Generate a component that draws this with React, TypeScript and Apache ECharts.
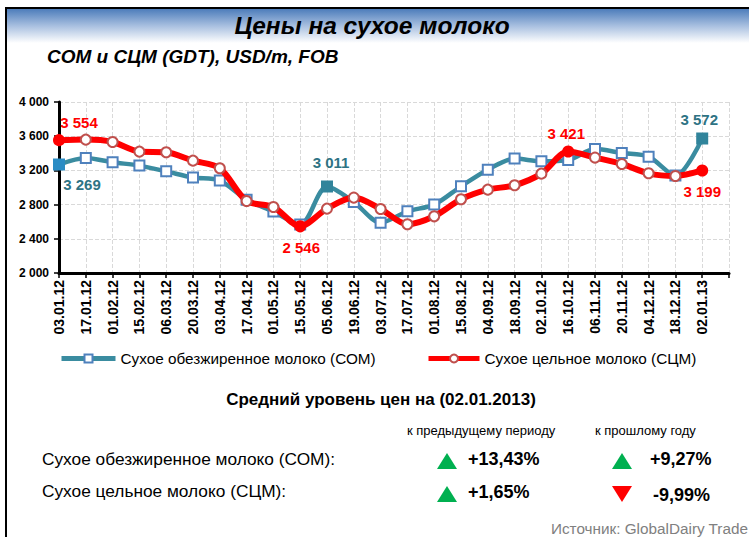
import React, { useEffect, useRef } from "react";
import * as echarts from "echarts";

const categories = [
  "03.01.12", "17.01.12", "01.02.12", "15.02.12", "06.03.12", "20.03.12", "03.04.12",
  "17.04.12", "01.05.12", "15.05.12", "05.06.12", "19.06.12", "03.07.12", "17.07.12",
  "01.08.12", "15.08.12", "04.09.12", "18.09.12", "02.10.12", "16.10.12", "06.11.12",
  "20.11.12", "04.12.12", "18.12.12", "02.01.13",
];
const comValues = [
  3269, 3345, 3295, 3256, 3189, 3116, 3081, 2858, 2718, 2566, 3011, 2830, 2589, 2722,
  2800, 3014, 3209, 3338, 3306, 3322, 3450, 3404, 3361, 3139, 3572,
];
const scmValues = [
  3554, 3560, 3532, 3420, 3412, 3314, 3225, 2842, 2772, 2546, 2753, 2882, 2749, 2570,
  2663, 2862, 2975, 3026, 3162, 3421, 3350, 3275, 3166, 3135, 3199,
];
const yMin = 2000;
const yMax = 4000;
const yStep = 400;
const seriesNames = ["Сухое обезжиренное молоко (СОМ)", "Сухое цельное молоко (СЦМ)"];
const titleText = "Цены на сухое молоко";
const subtitleText = "СОМ и СЦМ (GDT), USD/m, FOB";
const tableTitle = "Средний уровень цен на (02.01.2013)";
const columnHeaders = ["к предыдущему периоду", "к прошлому году"];
const rowLabels = ["Сухое обезжиренное молоко (СОМ):", "Сухое цельное молоко (СЦМ):"];
const changesPrev = [13.43, 1.65];
const changesYear = [9.27, -9.99];
const sourceText = "Источник: GlobalDairy Trade";

// which points carry a value label, and where the label sits relative to the point
const comLabels: Record<number, [number, number]> = { 0: [23, 20], 10: [4, -24], 24: [-3, -19] };
const scmLabels: Record<number, [number, number]> = { 0: [20, -18], 9: [1, 21], 19: [-2, -18], 24: [0, 21] };
const comFilled: Record<number, string> = { 0: "#2a8cc4", 10: "#31849b", 24: "#31849b" };
const scmFilled: Record<number, string> = { 0: "#ff0000", 9: "#ff0000", 19: "#ff0000", 24: "#ff0000" };

const FONT = "'Liberation Sans', Arial, sans-serif";
const TEAL = "#3a8ca0";
const RED = "#ff0000";

const fmtThousands = (v: number) => String(v).replace(/\B(?=(\d{3})+(?!\d))/g, " ");
const fmtPct = (v: number) => (v > 0 ? "+" : "") + v.toFixed(2).replace(".", ",") + "%";

function buildData(
  values: number[],
  labels: Record<number, [number, number]>,
  filled: Record<number, string>,
  labelColor: string
) {
  return values.map((v, i) => {
    const item: any = { value: v };
    if (filled[i]) item.itemStyle = { color: filled[i], borderColor: filled[i] };
    if (labels[i]) {
      item.label = {
        show: true,
        position: "inside",
        offset: labels[i],
        formatter: (p: any) => fmtThousands(p.value),
        color: labelColor,
        fontWeight: "bold",
        fontSize: 15,
        fontFamily: FONT,
      };
    }
    return item;
  });
}

function txt(text: string, x: number, y: number, opts: any = {}) {
  const align = opts.align || "left";
  return {
    type: "text",
    z: 100,
    style: {
      text,
      x,
      y,
      fill: opts.fill || "#000",
      fontSize: opts.fontSize || 14,
      fontWeight: opts.fontWeight || "normal",
      fontStyle: opts.fontStyle || "normal",
      fontFamily: FONT,
      align,
      textAlign: align,
      verticalAlign: "middle",
      textVerticalAlign: "middle",
    },
  };
}

function triangle(cx: number, cy: number, up: boolean) {
  const w = 10;
  const h = 8;
  const pts = up
    ? [[cx - w, cy + h], [cx + w, cy + h], [cx, cy - h]]
    : [[cx - w, cy - h], [cx + w, cy - h], [cx, cy + h]];
  return {
    type: "polygon",
    z: 100,
    shape: { points: pts },
    style: { fill: up ? "#00b050" : "#ff0000" },
  };
}

export default function App() {
  const ref = useRef<HTMLDivElement>(null);

  useEffect(() => {
    if (!ref.current) return;
    const chart = echarts.init(ref.current, undefined, { renderer: "svg" });

    const graphic: any[] = [
      {
        type: "rect",
        z: 0,
        shape: { x: 6, y: 9, width: 743, height: 34 },
        style: {
          fill: new echarts.graphic.LinearGradient(0, 0, 0, 1, [
            { offset: 0, color: "#4d7dbb" },
            { offset: 0.5, color: "#a9c0e0" },
            { offset: 1, color: "#ffffff" },
          ]),
        },
      },
      { type: "line", z: 100, shape: { x1: 5, y1: 8, x2: 749, y2: 8 }, style: { stroke: "#000", lineWidth: 2 } },
      { type: "line", z: 100, shape: { x1: 6, y1: 7, x2: 6, y2: 537 }, style: { stroke: "#000", lineWidth: 2 } },
      txt(titleText, 372, 25, { align: "center", fontSize: 24.5, fontWeight: "bold", fontStyle: "italic" }),
      txt(subtitleText, 47, 56, { fontSize: 19, fontWeight: "bold", fontStyle: "italic" }),
      txt(tableTitle, 381, 399, { align: "center", fontSize: 17, fontWeight: "bold" }),
      txt(columnHeaders[0], 407, 430, { fontSize: 13 }),
      txt(columnHeaders[1], 595, 430, { fontSize: 13 }),
      txt(rowLabels[0], 42, 459, { fontSize: 17.3 }),
      txt(rowLabels[1], 42, 491, { fontSize: 17.3 }),
      txt(sourceText, 748, 528, { align: "right", fontSize: 15.3, fill: "#808080" }),
    ];
    const rowY = [459, 492];
    changesPrev.forEach((v, i) => {
      graphic.push(triangle(447, rowY[i] + 2, v >= 0));
      graphic.push(txt(fmtPct(v), 468, rowY[i], { fontSize: 18, fontWeight: "bold" }));
    });
    changesYear.forEach((v, i) => {
      graphic.push(triangle(622, rowY[i] + 2, v >= 0));
      graphic.push(txt(fmtPct(v), v >= 0 ? 650 : 653, rowY[i] + (v >= 0 ? 0 : 3), { fontSize: 18, fontWeight: "bold" }));
    });

    const legendCommon = {
      top: 351,
      padding: 0,
      itemHeight: 10,
      textStyle: { fontSize: 15.3, color: "#000", fontFamily: FONT },
      lineStyle: { width: 5 },
    };

    chart.setOption({
      animation: false,
      backgroundColor: "#ffffff",
      textStyle: { fontFamily: FONT },
      grid: { left: 59, right: 20, top: 102, bottom: 264, containLabel: false },
      legend: [
        { ...legendCommon, data: [seriesNames[0]], left: 59, itemWidth: 54 },
        { ...legendCommon, data: [seriesNames[1]], left: 426, itemWidth: 51 },
      ],
      xAxis: {
        type: "category",
        boundaryGap: false,
        data: [...categories, ""],
        axisLine: { lineStyle: { color: "#000", width: 3 } },
        axisTick: { show: true, length: 5, lineStyle: { color: "#000", width: 1.5 } },
        axisLabel: {
          rotate: 90,
          interval: 0,
          fontSize: 14,
          fontWeight: "bold",
          color: "#000",
          margin: 7,
          fontFamily: FONT,
        },
        splitLine: { show: true, lineStyle: { color: "#d9d9d9", type: "dashed", width: 1 } },
      },
      yAxis: {
        type: "value",
        min: yMin,
        max: yMax,
        interval: yStep,
        axisLine: { show: true, lineStyle: { color: "#000", width: 3 } },
        axisTick: { show: true, length: 5, lineStyle: { color: "#000", width: 1.5 } },
        axisLabel: {
          fontSize: 12,
          fontWeight: "bold",
          color: "#000",
          margin: 10,
          fontFamily: FONT,
          formatter: (v: number) => fmtThousands(v),
        },
        splitLine: { show: true, lineStyle: { color: "#d9d9d9", type: "dashed", width: 1 } },
      },
      series: [
        {
          name: seriesNames[0],
          type: "line",
          smooth: 0.3,
          data: buildData(comValues, comLabels, comFilled, "#2e7384"),
          symbol: "rect",
          symbolSize: 10,
          lineStyle: { color: TEAL, width: 4.5 },
          itemStyle: { color: "#ffffff", borderColor: "#4f81bd", borderWidth: 2 },
          z: 3,
        },
        {
          name: seriesNames[1],
          type: "line",
          smooth: 0.3,
          data: buildData(scmValues, scmLabels, scmFilled, "#ff0000"),
          symbol: "circle",
          symbolSize: 10,
          lineStyle: { color: RED, width: 6 },
          itemStyle: { color: "#ffffff", borderColor: "#c0504d", borderWidth: 2 },
          z: 4,
        },
      ],
      graphic,
    });

    return () => chart.dispose();
  }, []);

  return (
    <div
      ref={ref}
      style={{ position: "absolute", left: 0, top: 0, width: 749, height: 537, background: "#fff" }}
    />
  );
}
